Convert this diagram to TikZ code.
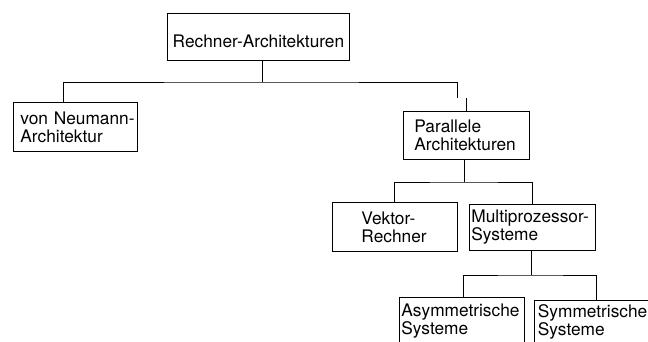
\documentclass[tikz,border=0pt]{standalone}
\usepackage{fontspec}
\setmainfont{TeX Gyre Heros}
\begin{document}
\begin{tikzpicture}[x=1pt,y=-1pt,
  box/.style={draw, line width=0.9pt, inner sep=0pt, anchor=north west, align=left,
    font=\fontsize{17.3}{18}\selectfont},
  link/.style={line width=0.9pt}]
\useasboundingbox (0,0) rectangle (648,342);
\node[box, text width=182pt, minimum height=47pt, align=center] (root) at (167,13) {\raisebox{-4pt}[\height][\depth]{Rechner-Architekturen}};
\node[box, text width=124pt, minimum height=49pt] (vn) at (13,102) {\hspace*{7pt}von Neumann-\\\hspace*{7pt}Architektur};
\node[box, text width=126pt, minimum height=48pt] (par) at (403,111) {\hspace*{11pt}Parallele\\\hspace*{11pt}Architekturen};
\node[box, text width=125pt, minimum height=49pt] (vek) at (332,202) {\hspace*{29pt}Vektor-\\\hspace*{29pt}Rechner};
\node[box, text width=126pt, minimum height=46pt] (mul) at (469,204) {\hspace*{2pt}Multiprozessor-\\\hspace*{2pt}Systeme};
\node[box, text width=125pt, minimum height=46.5pt] (asy) at (399,297) {\hspace*{2pt}Asymmetrische\\\hspace*{2pt}Systeme};
\node[box, text width=125pt, minimum height=43.5pt] (sym) at (534,300) {\hspace*{3.5pt}Symmetrische\\\hspace*{3.5pt}Systeme};
% connectors
\coordinate (j1) at (262,82);
\coordinate (j1r) at (457,98);
\coordinate (j2) at (464,182);
\coordinate (j3) at (531,275);
\draw[link] (root.south -| j1) -- (j1);
\draw[link] (vn.north -| 63,0) |- (j1) -| (j1r);
\draw[link] (par.north -| 466,0) -- ++(0,-13);
\draw[link] (par.south -| j2) -- (j2);
\draw[link] (vek.north -| 394,0) |- (j2) -| (mul.north -| 532,0);
\draw[link] (mul.south -| j3) -- (j3);
\draw[link] (asy.north -| 463,0) |- (j3) -| (sym.north -| 596,0);
\end{tikzpicture}
\end{document}
